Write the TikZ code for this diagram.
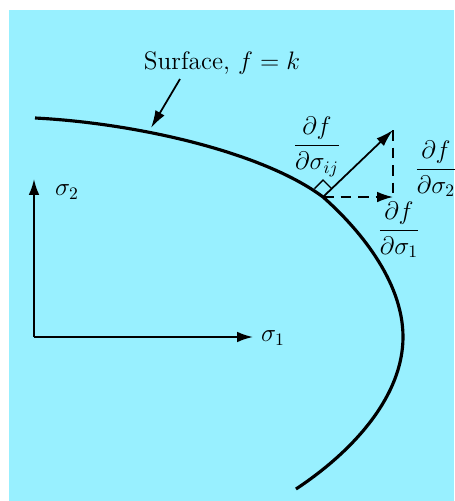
\documentclass[tikz,border=0pt]{standalone}
\usetikzlibrary{arrows.meta}
\definecolor{bgcyan}{RGB}{152,240,255}

\begin{document}
\begin{tikzpicture}[x=0.02cm,y=-0.02cm,
    surface/.style={line width=1.8pt},
    axis/.style={line width=1.1pt,-{Latex[length=9pt,width=6pt]}},
    pointer/.style={line width=1pt,-{Latex[length=10pt,width=6pt]}},
    comp/.style={line width=0.9pt,dashed,dash pattern=on 6pt off 4pt},
    lab/.style={font=\Large,inner sep=1pt}]
  \useasboundingbox (0,0) rectangle (454,501);
  \fill[bgcyan] (9,10) rectangle (454,501);
  %
  % yield surface
  \coordinate (left) at (35,118);
  \coordinate (base) at (323,197);
  \coordinate (right) at (403,337);
  \coordinate (bottom) at (296,489);
  \coordinate (tip) at (151,128);
  \draw[surface] (left) .. controls (135,123) and (263,152) .. (base)
    .. controls (357,227) and (403,280) .. (right)
    .. controls (403,395) and (355,450) .. (bottom);
  %
  \node[lab] (surf) at (222,63) {Surface, $f=k$};
  \coordinate (surftail) at (180,79);
  \draw[pointer] (surftail) -- (tip);
  %
  % stress axes
  \coordinate (O) at (34,337);
  \coordinate (xend) at (253,337);
  \coordinate (yend) at (34,179);
  \draw[axis] (O) -- (xend);
  \draw[axis] (O) -- (yend);
  \node[lab] (s1) at (273,338) {$\sigma_1$};
  \node[lab] (s2) at (67,192) {$\sigma_2$};
  %
  % normal and its components
  \coordinate (head) at (393,130);
  \coordinate (corner) at (393,197);
  \draw[pointer] (base) -- (head);
  \draw[comp,-{Latex[length=9pt,width=6pt]}] (base) -- (corner);
  \draw[comp] (head) -- (corner);
  \draw[line width=0.8pt] (base) ++(-8.5,-8.5) -- ++(8.5,-8.5) -- ++(8.5,8.5);
  %
  \node[lab] (dfij) at (317,147) {$\displaystyle\frac{\partial f}{\partial\sigma_{ij}}$};
  \node[lab] (df2) at (436,169) {$\displaystyle\frac{\partial f}{\partial\sigma_2}$};
  \node[lab] (df1) at (399,230) {$\displaystyle\frac{\partial f}{\partial\sigma_1}$};
  %
\end{tikzpicture}
\end{document}
